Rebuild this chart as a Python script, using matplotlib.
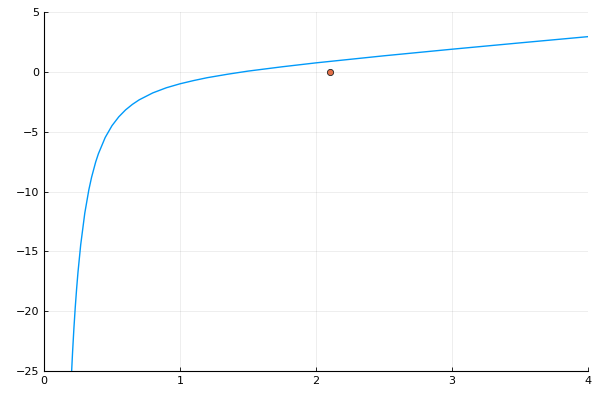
import matplotlib
matplotlib.use("Agg")
import matplotlib.pyplot as plt

# curve samples
curve_x = [0.2, 0.21, 0.22, 0.23, 0.24, 0.25, 0.27, 0.3, 0.33, 0.35, 0.38, 0.4, 0.45, 0.5,
           0.55, 0.6, 0.65, 0.7, 0.8, 0.9, 1.0, 1.1, 1.2, 1.35, 1.5, 1.75, 2.0, 2.5, 3.0, 3.5, 4.0]
curve_y = [-25.8, -23.47, -21.44, -19.67, -18.12, -16.75, -14.45, -11.81, -9.85, -8.81, -7.54,
           -6.85, -5.49, -4.5, -3.76, -3.18, -2.72, -2.34, -1.76, -1.33, -1.0, -0.73, -0.49,
           -0.2, 0.06, 0.42, 0.75, 1.34, 1.89, 2.42, 2.94]
point_x = [2.1]
point_y = [0.0]

xticks = [0, 1, 2, 3, 4]
yticks = [-25, -20, -15, -10, -5, 0, 5]

fig = plt.figure(figsize=(6, 4), dpi=100)
ax = fig.add_axes([0.0733, 0.0725, 0.9067, 0.8975])
ax.plot(curve_x, curve_y, color="#009AFA", lw=1.0)
ax.scatter(point_x, point_y, s=20, color="#E36F47", edgecolors="#222222", linewidths=0.6, zorder=3)
ax.set_xlim(0, 4)
ax.set_ylim(-25, 5)
ax.set_xticks(xticks)
ax.set_yticks(yticks)
ax.grid(True, color="#000000", alpha=0.08, lw=0.6)
for s in ["top", "right"]:
    ax.spines[s].set_visible(False)
for s in ["left", "bottom"]:
    ax.spines[s].set_linewidth(0.8)
ax.tick_params(direction="in", length=3, width=0.6, labelsize=8, colors="black")
fig.savefig("out.png", dpi=100)
